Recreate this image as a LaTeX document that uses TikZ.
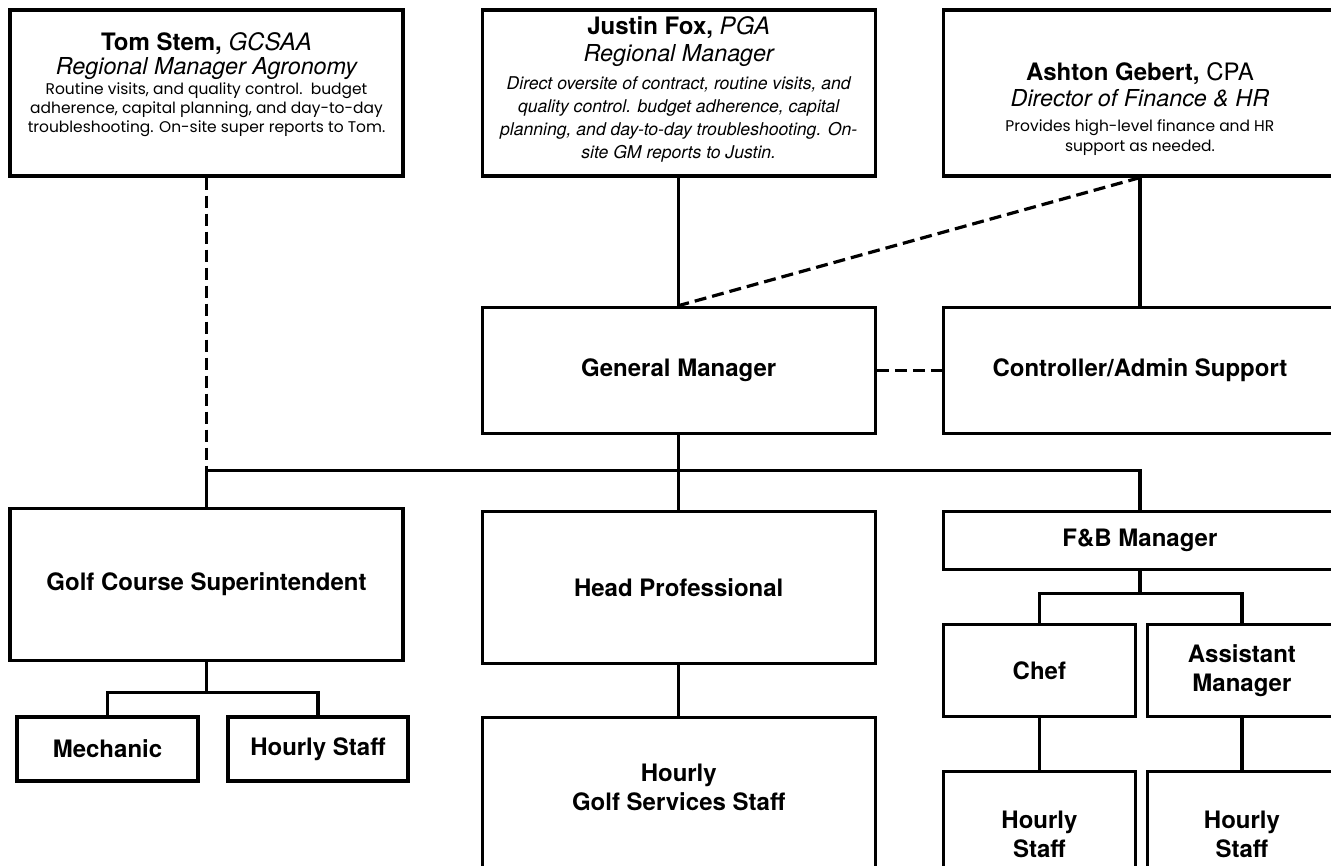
\documentclass[tikz,border=0pt]{standalone}
\usepackage{fontspec}
\setmainfont{TeX Gyre Heros}
\newfontfamily\notefont{Poppins}
\usetikzlibrary{positioning}

\tikzstyle{boxNode} = [rectangle, draw=black, line width=2.4pt, align=center, inner sep=0pt, minimum width=294.75pt, font=\bfseries\fontsize{18}{22}\selectfont]
\tikzstyle{headNode} = [boxNode, minimum height=124.5pt, font=\fontsize{11.6}{14.25}\selectfont]
\tikzstyle{smallNode} = [boxNode, minimum width=135.75pt, minimum height=48pt]
\tikzstyle{line} = [line width=2.4pt]
\tikzstyle{dashline} = [line width=2.4pt, dash pattern=on 9pt off 4.5pt]

\begin{document}
\begin{tikzpicture}
    \useasboundingbox (0,0) rectangle (998.25pt,-648.75pt);
    \clip (0,0) rectangle (998.25pt,-648.75pt);

    % regional staff
    \node (tom)[headNode, text height=61.75pt] at (154.875pt,-69.75pt) {{\fontsize{18}{21}\selectfont\textbf{Tom Stem,} \textit{GCSAA}}\\[1pt]
        {\fontsize{17.5}{21}\selectfont\itshape Regional Manager Agronomy}\\[0.75pt]
        {\notefont Routine visits, and quality control.\ \ budget}\\
        {\notefont adherence, capital planning, and day-to-day}\\
        {\notefont troubleshooting. On-site super reports to Tom.}};
    \node (justin)[headNode, right=57pt of tom, text height=101.5pt, font=\fontsize{13.2}{17.25}\selectfont] {{\fontsize{18}{21}\selectfont\textbf{Justin Fox,} \textit{PGA}}\\[3pt]
        {\fontsize{17.5}{21}\selectfont\itshape Regional Manager}\\[3.75pt]
        {\itshape Direct oversite of contract, routine visits, and}\\
        {\itshape quality control. budget adherence, capital}\\
        {\itshape planning, and day-to-day troubleshooting. On-}\\
        {\itshape site GM reports to Justin.}};
    \node (ashton)[headNode, right=48.75pt of justin, text height=91pt, font=\fontsize{11.6}{15}\selectfont] {{\fontsize{18}{21}\selectfont\textbf{Ashton Gebert,} CPA}\\[2.45pt]
        {\fontsize{17.5}{21}\selectfont\itshape Director of Finance \& HR}\\[3.75pt]
        {\notefont Provides high-level finance and HR}\\
        {\notefont support as needed.}};

    % club management
    \node (gm)[boxNode, below=96pt of justin, minimum height=94.5pt] {General Manager};
    \node (ctrl)[boxNode, below=96pt of ashton, minimum height=94.5pt] {Controller/Admin Support};

    \node (golf)[boxNode, below=247pt of tom, minimum height=114pt] {Golf Course Superintendent};
    \node (headpro)[boxNode, below=56.25pt of gm, minimum height=114pt] {Head Professional};
    \node (fb)[boxNode, below=56.25pt of ctrl, minimum height=43.5pt] {F\&B Manager};

    % staff
    \node (mech)[smallNode, below=40pt of golf, xshift=-74.25pt] {Mechanic};
    \node (hourlyA)[smallNode, below=40pt of golf, xshift=83.6pt, minimum width=135pt] {Hourly Staff};
    \node (golfstaff)[boxNode, below=38pt of headpro, minimum height=115.5pt, text depth=11pt] {Hourly\\Golf Services Staff};
    \node (chef)[smallNode, below=39pt of fb, xshift=-75.4pt, minimum width=144pt, minimum height=69pt] {Chef};
    \node (asst)[smallNode, below=39pt of fb, xshift=76.5pt, minimum width=141.75pt, minimum height=69pt] {Assistant\\Manager};
    \node (hourlyB)[smallNode, below=38.5pt of chef, minimum width=144pt, minimum height=94.5pt] {Hourly\\Staff};
    \node (hourlyC)[smallNode, below=38.5pt of asst, minimum width=141.75pt, minimum height=94.5pt] {Hourly\\Staff};

    \coordinate[below=27pt of gm] (bus);
    \coordinate[below=22.5pt of golf] (golfSplit);
    \coordinate[below=17pt of fb] (fbSplit);

    \draw [line] (justin) -- (gm);
    \draw [line] (ashton) -- (ctrl);
    \draw [dashline] (ashton.south) -- (gm.north);
    \draw [dashline] (gm) -- (ctrl);
    \draw [dashline] (tom.south) -- (tom.south |- bus);
    \draw [line] (gm.south) -- (bus);
    \draw [line] (golf.north) -- (golf.north |- bus) -| (fb.north);
    \draw [line] (headpro.north) -- (headpro.north |- bus);
    \draw [line] (golf.south) -- (golfSplit);
    \draw [line] (mech.north) |- (golfSplit) -| (hourlyA.north);
    \draw [line] (headpro) -- (golfstaff);
    \draw [line] (fb.south) -- (fbSplit);
    \draw [line] (chef.north) |- (fbSplit) -| (asst.north);
    \draw [line] (chef) -- (hourlyB);
    \draw [line] (asst) -- (hourlyC);

\end{tikzpicture}
\end{document}
